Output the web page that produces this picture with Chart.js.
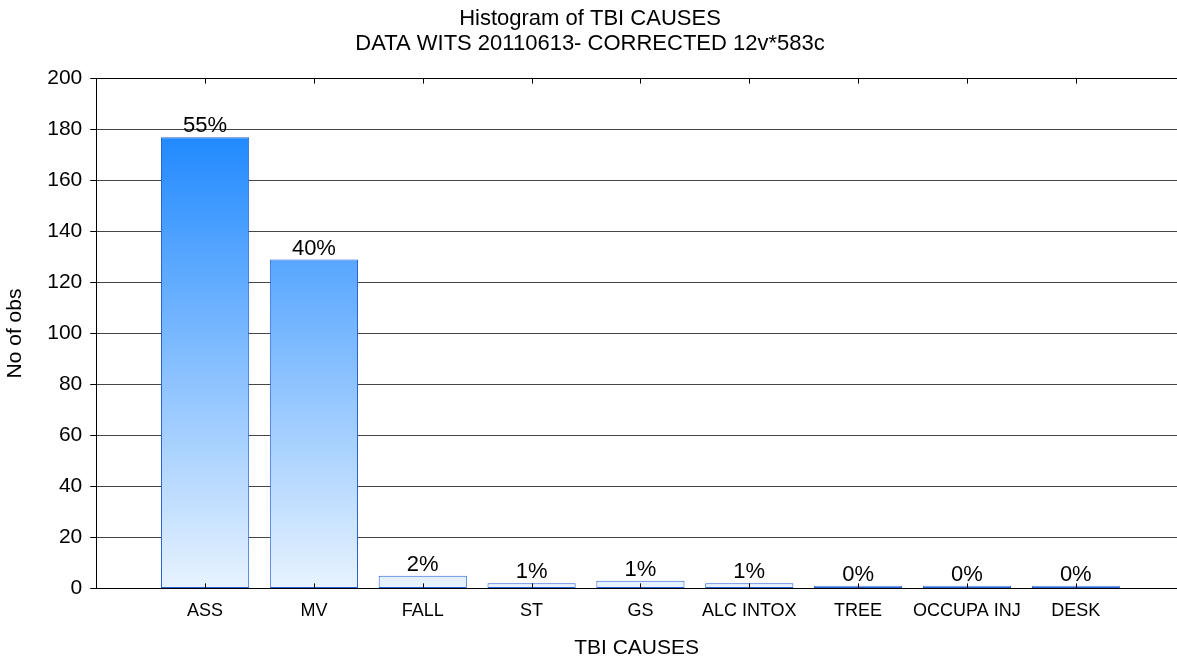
<!DOCTYPE html>
<html>
<head>
<meta charset="utf-8">
<script src="https://cdn.jsdelivr.net/npm/chart.js@4"></script>
<style>
  html, body { margin: 0; padding: 0; background: #fff; }
  #wrap { width: 1177px; height: 659px; }
</style>
</head>
<body>
<div id="wrap"><canvas id="histChart" width="1177" height="659"></canvas></div>
<script>
// Histogram of TBI causes - counts
const categories = ['ASS', 'MV', 'FALL', 'ST', 'GS', 'ALC INTOX', 'TREE', 'OCCUPA INJ', 'DESK'];
const counts = [177, 129, 5, 2, 3, 2, 1, 1, 1];
const titleLines = ['Histogram of TBI CAUSES', 'DATA WITS 20110613- CORRECTED 12v*583c'];
const yMax = 200;
const yStep = 20;

const total = counts.reduce((a, b) => a + b, 0);
const FONT = '"Liberation Sans", Arial, sans-serif';

// percent labels above bars
const percentLabels = {
    id: 'percentLabels',
    afterDatasetsDraw(chart) {
        const ctx = chart.ctx;
        const meta = chart.getDatasetMeta(0);
        ctx.save();
        ctx.fillStyle = '#000';
        ctx.font = '22px ' + FONT;
        ctx.textAlign = 'center';
        ctx.textBaseline = 'alphabetic';
        meta.data.forEach((bar, i) => {
            const pct = Math.round(counts[i] / total * 100) + '%';
            ctx.fillText(pct, bar.x, bar.y - 5);
        });
        ctx.restore();
    }
};

// small inward ticks at top and bottom of the plot at each category
const innerTicks = {
    id: 'innerTicks',
    afterDatasetsDraw(chart) {
        const ctx = chart.ctx;
        const x = chart.scales.x;
        const area = chart.chartArea;
        ctx.save();
        ctx.strokeStyle = '#000';
        ctx.lineWidth = 1;
        for (let i = 1; i <= categories.length; i++) {
            const px = Math.round(x.getPixelForValue(i)) + 0.5;
            ctx.beginPath();
            ctx.moveTo(px, area.top);
            ctx.lineTo(px, area.top + 5);
            ctx.moveTo(px, area.bottom);
            ctx.lineTo(px, area.bottom - 5);
            ctx.stroke();
        }
        ctx.restore();
    }
};

const ctx = document.getElementById('histChart').getContext('2d');
new Chart(ctx, {
    type: 'bar',
    data: {
        datasets: [{
            label: 'No of obs',
            data: counts.map((v, i) => ({ x: i + 1, y: v })),
            backgroundColor: function (c) {
                const chart = c.chart;
                if (!chart.chartArea) return '#6ab0ff';
                const y = chart.scales.y;
                const g = chart.ctx.createLinearGradient(0, y.getPixelForValue(0), 0, y.getPixelForValue(180));
                g.addColorStop(0, '#e8f3ff');
                g.addColorStop(1, '#1e88ff');
                return g;
            },
            borderColor: '#2a62d6',
            borderWidth: 1,
            borderSkipped: false,
            barPercentage: 0.81,
            categoryPercentage: 1
        }]
    },
    options: {
        responsive: false,
        animation: false,
        layout: { padding: { left: 3, right: 0, top: 0, bottom: 0 } },
        plugins: {
            legend: { display: false },
            tooltip: { enabled: false },
            title: {
                display: true,
                text: titleLines,
                color: '#000',
                font: { family: FONT, size: 22, weight: 'normal', lineHeight: 1.15 },
                padding: { top: 6, bottom: 22 }
            }
        },
        scales: {
            x: {
                type: 'linear',
                offset: false,
                min: 0,
                max: 9.93,
                grid: { display: false, offset: false },
                border: { display: true, color: '#000', width: 1 },
                afterBuildTicks: axis => {
                    axis.ticks = categories.map((c, i) => ({ value: i + 1 }));
                },
                ticks: {
                    autoSkip: false,
                    maxRotation: 0,
                    color: '#000',
                    font: { family: FONT, size: 18 },
                    padding: 4,
                    callback: v => categories[v - 1] || ''
                },
                title: {
                    display: true,
                    text: 'TBI CAUSES',
                    color: '#000',
                    font: { family: FONT, size: 21, lineHeight: 1.0 },
                    padding: { top: 12, bottom: 0 }
                }
            },
            y: {
                min: 0,
                max: yMax,
                ticks: {
                    stepSize: yStep,
                    color: '#000',
                    font: { family: FONT, size: 21 },
                    padding: 8
                },
                grid: {
                    color: c => (c.tick && c.tick.value === yMax) ? '#000' : '#444',
                    tickColor: '#000',
                    tickLength: 6,
                    lineWidth: 1
                },
                border: { display: true, color: '#000', width: 1 },
                title: {
                    display: true,
                    text: 'No of obs',
                    color: '#000',
                    font: { family: FONT, size: 21 },
                    padding: { top: 0, bottom: 11 }
                }
            }
        }
    },
    plugins: [percentLabels, innerTicks]
});
</script>
</body>
</html>
